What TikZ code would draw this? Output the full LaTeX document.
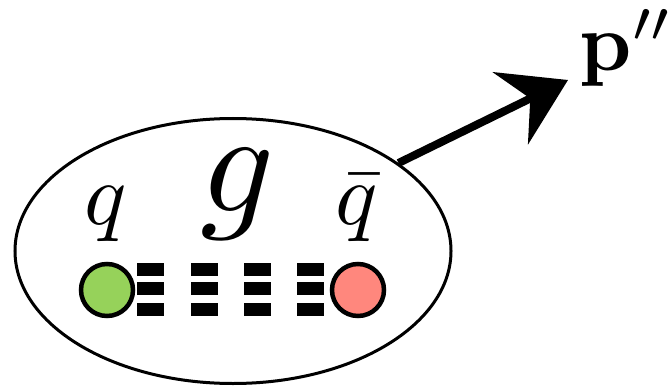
\documentclass[tikz,border=0pt]{standalone}
\usetikzlibrary{arrows.meta,shapes.geometric}
\definecolor{qgreen}{RGB}{150,210,90}
\definecolor{qred}{RGB}{255,135,125}
\tikzset{
  hadron/.style={draw,ellipse,line width=3pt,minimum width=436pt,minimum height=265pt,inner sep=0pt},
  quark/.style={draw,circle,line width=4.5pt,minimum size=52pt,inner sep=0pt},
  lbl/.style={inner sep=0pt,anchor=base},
  bar/.style={fill=black},
  momarrow/.style={line width=8pt,-{Stealth[length=64pt,width=80pt,inset=22pt]}}
}
\begin{document}
\begin{tikzpicture}[x=1pt,y=-1pt]
\useasboundingbox (0,0) rectangle (668,390);
\node[hadron] (e) at (233,251) {};
\node[quark,fill=qgreen] (q) at (107,290) {};
\node[quark,fill=qred] (qb) at (358,290) {};
\foreach \x in {137,191,244,297}{
  \foreach \y in {263,282,303}{
    \fill[bar] (\x,\y) rectangle ++(27,13);
  }
}
\node[lbl,scale=8.8] (lq) at (106,224) {$q$};
\node[lbl,scale=14.5] (lg) at (238,211) {$g$};
\node[lbl,scale=8.8] (lqb) at (357,224) {$\bar{q}$};
\node[inner sep=0pt,anchor=base west,scale=8.2] (lp) at (578,71) {$\mathbf{p}''$};
\coordinate (tip) at (568,80);
\draw[momarrow] (e.28) -- (tip);
\end{tikzpicture}
\end{document}
